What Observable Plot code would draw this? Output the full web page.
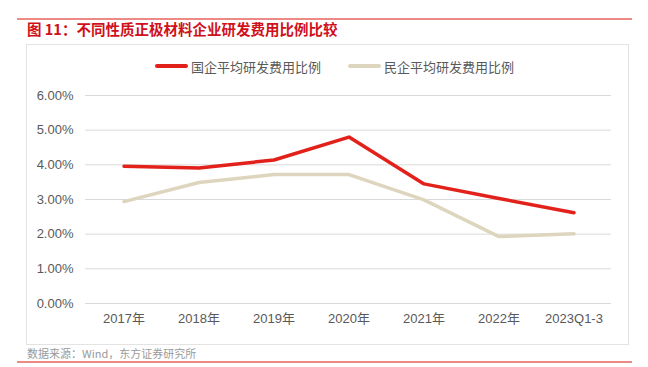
<!DOCTYPE html>
<html>
<head>
<meta charset="utf-8">
<script src="https://cdn.jsdelivr.net/npm/d3@7"></script>
<script src="https://cdn.jsdelivr.net/npm/@observablehq/plot@0.6"></script>
<style>
  body { margin: 0; background: #fff; }
  #page { position: relative; width: 648px; height: 367px; overflow: hidden; font-family: "Liberation Sans", "Noto Sans CJK SC", sans-serif; }
  .rule { position: absolute; left: 17px; width: 615px; height: 2px; background: #EE8A86; }
  #title { position: absolute; left: 27px; top: 19px; font-size: 14.5px; font-weight: bold; color: #D0101A; font-family: "Noto Sans CJK SC", sans-serif; line-height: 20px; white-space: nowrap; }
  #box { position: absolute; left: 26px; top: 44px; width: 601px; height: 299px; border: 1px solid #e3e3e3; }
  #legend { position: absolute; top: 56px; left: 0; width: 648px; height: 20px; font-size: 13px; color: #595959; font-family: "Noto Sans CJK SC", sans-serif; }
  .li { position: absolute; top: 0; display: flex; align-items: center; height: 20px; white-space: nowrap; }
  .sw { width: 33px; height: 4px; border-radius: 2px; margin-right: 3px; }
  #chart { position: absolute; left: 0; top: 0; }
  #source { position: absolute; left: 27px; top: 345px; font-size: 11px; color: #9a9a9a; font-family: "Noto Sans CJK SC", sans-serif; white-space: nowrap; line-height: 16px; }
</style>
</head>
<body>
<div id="page">
  <div class="rule" style="top:18px"></div>
  <div id="title">图 11：不同性质正极材料企业研发费用比例比较</div>
  <div id="box"></div>
  <div id="legend"></div>
  <div id="chart"></div>
  <div id="source">数据来源：Wind，东方证券研究所</div>
  <div class="rule" style="top:361px"></div>
</div>
<script>
const categories = ["2017年", "2018年", "2019年", "2020年", "2021年", "2022年", "2023Q1-3"];
const stateOwned = [3.96, 3.91, 4.14, 4.80, 3.45, 3.03, 2.62];
const privateOwned = [2.94, 3.49, 3.72, 3.72, 2.99, 1.93, 2.01];
const seriesNames = ["国企平均研发费用比例", "民企平均研发费用比例"];
const seriesColors = ["#E3211B", "#DED5BE"];
const yTicks = [0, 1, 2, 3, 4, 5, 6];

const data = [];
categories.forEach((c, i) => {
  data.push({cat: c, value: stateOwned[i], series: seriesNames[0]});
  data.push({cat: c, value: privateOwned[i], series: seriesNames[1]});
});

const plot = Plot.plot({
  width: 648,
  height: 340,
  marginLeft: 85,
  marginRight: 37,
  marginTop: 95,
  marginBottom: 37,
  style: { fontFamily: '"Liberation Sans", "Noto Sans CJK SC", sans-serif', fontSize: "13px", color: "#595959", background: "transparent" },
  x: { domain: categories, type: "band", padding: 0, label: null },
  y: { domain: [0, 6], label: null },
  color: { domain: seriesNames, range: seriesColors },
  marks: [
    Plot.gridY(yTicks, { stroke: "#d9d9d9", strokeOpacity: 1, strokeWidth: 1 }),
    Plot.axisY(yTicks, { tickSize: 0, tickPadding: 12, tickFormat: d => d.toFixed(2) + "%", fill: "#595959", fontSize: 13, label: null }),
    Plot.axisX({ tickSize: 0, tickPadding: 10, fill: "#595959", fontSize: 13, label: null }),
    Plot.line(data, { x: "cat", y: "value", z: "series", stroke: "series", strokeWidth: 3.5, strokeLinejoin: "round", strokeLinecap: "round" })
  ]
});
document.getElementById("chart").appendChild(plot);

const legend = document.getElementById("legend");
const legendLeft = [155, 348];
seriesNames.forEach((n, i) => {
  const item = document.createElement("div");
  item.className = "li";
  item.style.left = legendLeft[i] + "px";
  item.innerHTML = `<span class="sw" style="background:${seriesColors[i]}"></span><span>${n}</span>`;
  legend.appendChild(item);
});
</script>
</body>
</html>
